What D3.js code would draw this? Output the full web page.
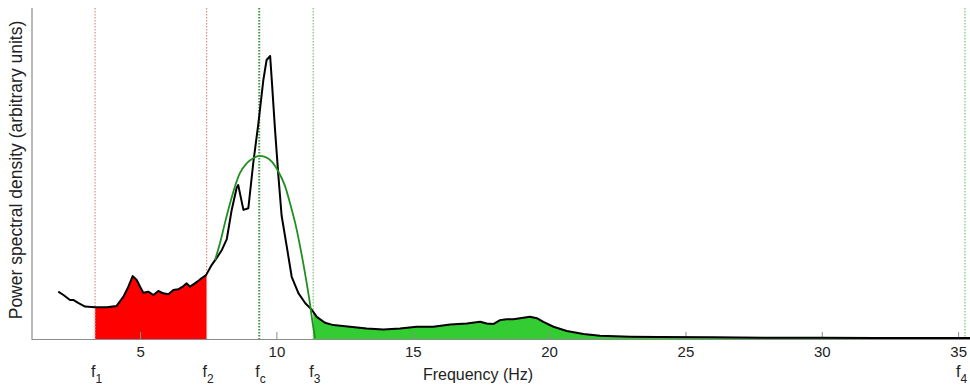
<!DOCTYPE html>
<html>
<head>
<meta charset="utf-8">
<script src="https://cdn.jsdelivr.net/npm/d3@7"></script>
<style>
  html, body { margin: 0; padding: 0; background: #fff; }
  svg { display: block; font-family: "Liberation Sans", Arial, sans-serif; }
</style>
</head>
<body>
<svg id="chart" width="970" height="387"></svg>
<script>
// ---- Data ----
const psdFreq = [2.00, 2.19, 2.43, 2.55, 2.73, 2.98, 3.35, 3.78, 4.14, 4.39, 4.57, 4.73, 4.88, 5.00, 5.12, 5.30, 5.49, 5.67, 5.85, 6.04, 6.22, 6.40, 6.59, 6.71, 6.83, 7.01, 7.20, 7.42, 7.63, 7.81, 8.00, 8.18, 8.36, 8.54, 8.60, 8.79, 8.97, 9.15, 9.34, 9.52, 9.64, 9.77, 9.83, 9.95, 10.07, 10.19, 10.38, 10.56, 10.81, 11.06, 11.30, 11.48, 11.78, 12.09, 12.70, 13.31, 13.92, 14.53, 15.14, 15.75, 16.37, 16.98, 17.47, 17.71, 17.95, 18.20, 18.44, 18.69, 18.93, 19.30, 19.55, 19.79, 20.16, 20.65, 21.26, 21.87, 22.97, 24.0, 26.0, 28.0, 30.0, 32.0, 34.0, 36.0];
const psdValue = [14.3, 13.3, 11.8, 11.8, 10.9, 9.8, 9.6, 9.6, 10.0, 12.8, 15.8, 19.0, 17.8, 15.8, 14.0, 14.3, 13.3, 14.5, 13.8, 13.5, 14.8, 15.0, 16.0, 16.8, 15.8, 16.8, 18.0, 19.3, 22.4, 24.5, 26.9, 30.2, 39.0, 45.6, 46.5, 39.0, 39.5, 53.1, 65.2, 78.2, 84.3, 85.5, 78.2, 63.1, 49.5, 37.3, 27.9, 18.8, 13.8, 10.8, 8.8, 6.7, 4.9, 4.2, 3.7, 3.2, 2.9, 3.2, 3.7, 3.7, 4.4, 4.7, 5.2, 4.7, 4.5, 5.7, 6.0, 6.0, 6.3, 6.7, 6.3, 5.2, 3.7, 2.4, 1.5, 1.0, 0.7, 0.6, 0.5, 0.4, 0.4, 0.3, 0.3, 0.3];

const fitFreq = [7.75, 7.93, 8.11, 8.30, 8.48, 8.66, 8.91, 9.15, 9.37, 9.58, 9.83, 10.07, 10.32, 10.50, 10.69, 10.87, 11.05, 11.21, 11.33, 11.42];
const fitValue = [23.9, 28.9, 35.0, 41.0, 46.1, 50.1, 53.1, 54.6, 55.3, 55.0, 53.6, 50.6, 46.1, 41.0, 35.0, 27.9, 19.8, 11.8, 4.7, 0.2];

const markerNames = ["1", "2", "c", "3", "4"];
const markerFreq = [3.35, 7.44, 9.37, 11.35, 35.25];
const markerColor = ["#e38a8a", "#e38a8a", "#3f9a3f", "#7cc07c", "#7cc07c"];

const tickValues = [5, 10, 15, 20, 25, 30, 35];
const xLabel = "Frequency (Hz)";
const yLabel = "Power spectral density (arbitrary units)";

// ---- Drawing ----
const svg = d3.select("#chart");
const x = d3.scaleLinear().domain([1, 36]).range([31, 985.4]);
const y = d3.scaleLinear().domain([0, 100]).range([339, 8]);

const psd = psdFreq.map((f, i) => ({ f, v: psdValue[i] }));
const fit = fitFreq.map((f, i) => ({ f, v: fitValue[i] }));

function interp(f) {
  for (let i = 0; i < psd.length - 1; i++) {
    if (f >= psd[i].f && f <= psd[i + 1].f) {
      const t = (f - psd[i].f) / (psd[i + 1].f - psd[i].f);
      return psd[i].v + t * (psd[i + 1].v - psd[i].v);
    }
  }
  return psd[psd.length - 1].v;
}
function band(a, b) {
  const pts = [{ f: a, v: interp(a) }];
  psd.forEach(d => { if (d.f > a && d.f < b) pts.push(d); });
  pts.push({ f: b, v: interp(b) });
  return pts;
}

const area = d3.area().x(d => x(d.f)).y0(y(0)).y1(d => y(d.v));
const line = d3.line().x(d => x(d.f)).y(d => y(d.v));

// fills
svg.append("path").datum(band(markerFreq[0], markerFreq[1]))
  .attr("d", area).attr("fill", "#ff0000");
svg.append("path").datum(band(markerFreq[3], markerFreq[4]))
  .attr("d", area).attr("fill", "#33cc33");

// vertical dotted marker lines
svg.selectAll("line.marker").data(markerFreq).enter().append("line")
  .attr("class", "marker")
  .attr("x1", d => x(d)).attr("x2", d => x(d))
  .attr("y1", y(100)).attr("y2", y(0))
  .attr("stroke", (d, i) => markerColor[i])
  .attr("stroke-width", (d, i) => i === 2 ? 2 : 1.2)
  .attr("stroke-dasharray", "1.5,1.5");

// axes
const xAxis = d3.axisBottom(x).tickValues(tickValues).tickSizeInner(-7).tickSizeOuter(0).tickPadding(7);
const gx = svg.append("g").attr("transform", `translate(0,${y(0)})`).call(xAxis);
gx.select(".domain").attr("stroke", "#8c8c8c").attr("stroke-width", 1.2);
gx.selectAll(".tick line").attr("stroke", "#8c8c8c");
gx.selectAll(".tick text").attr("font-size", 15).attr("fill", "#222")
  .attr("font-family", "'Liberation Sans', Arial, sans-serif");

svg.append("line").attr("x1", 32).attr("x2", 32).attr("y1", y(100)).attr("y2", y(0))
  .attr("stroke", "#8c8c8c").attr("stroke-width", 1.2);

// curves
svg.append("path").datum(psd).attr("d", line)
  .attr("fill", "none").attr("stroke", "#000").attr("stroke-width", 2)
  .attr("stroke-linejoin", "round");
svg.append("path").datum(fit).attr("d", line.curve(d3.curveMonotoneX))
  .attr("fill", "none").attr("stroke", "#1f8f1f").attr("stroke-width", 1.8);

// axis labels
svg.append("text").attr("x", 478).attr("y", 380).attr("text-anchor", "middle")
  .attr("font-size", 16).attr("fill", "#222").text(xLabel);
svg.append("text").attr("transform", "translate(22,170) rotate(-90)")
  .attr("text-anchor", "middle").attr("font-size", 17.5).attr("fill", "#222").text(yLabel);

// f labels
const fl = svg.selectAll("text.flab").data(markerFreq).enter().append("text")
  .attr("class", "flab")
  .attr("x", d => Math.min(x(d) - 4, 956)).attr("y", 377)
  .attr("font-size", 16).attr("fill", "#222");
fl.append("tspan").text("f");
fl.append("tspan").attr("dy", 6).attr("font-size", 12).text((d, i) => markerNames[i]);
</script>
</body>
</html>
